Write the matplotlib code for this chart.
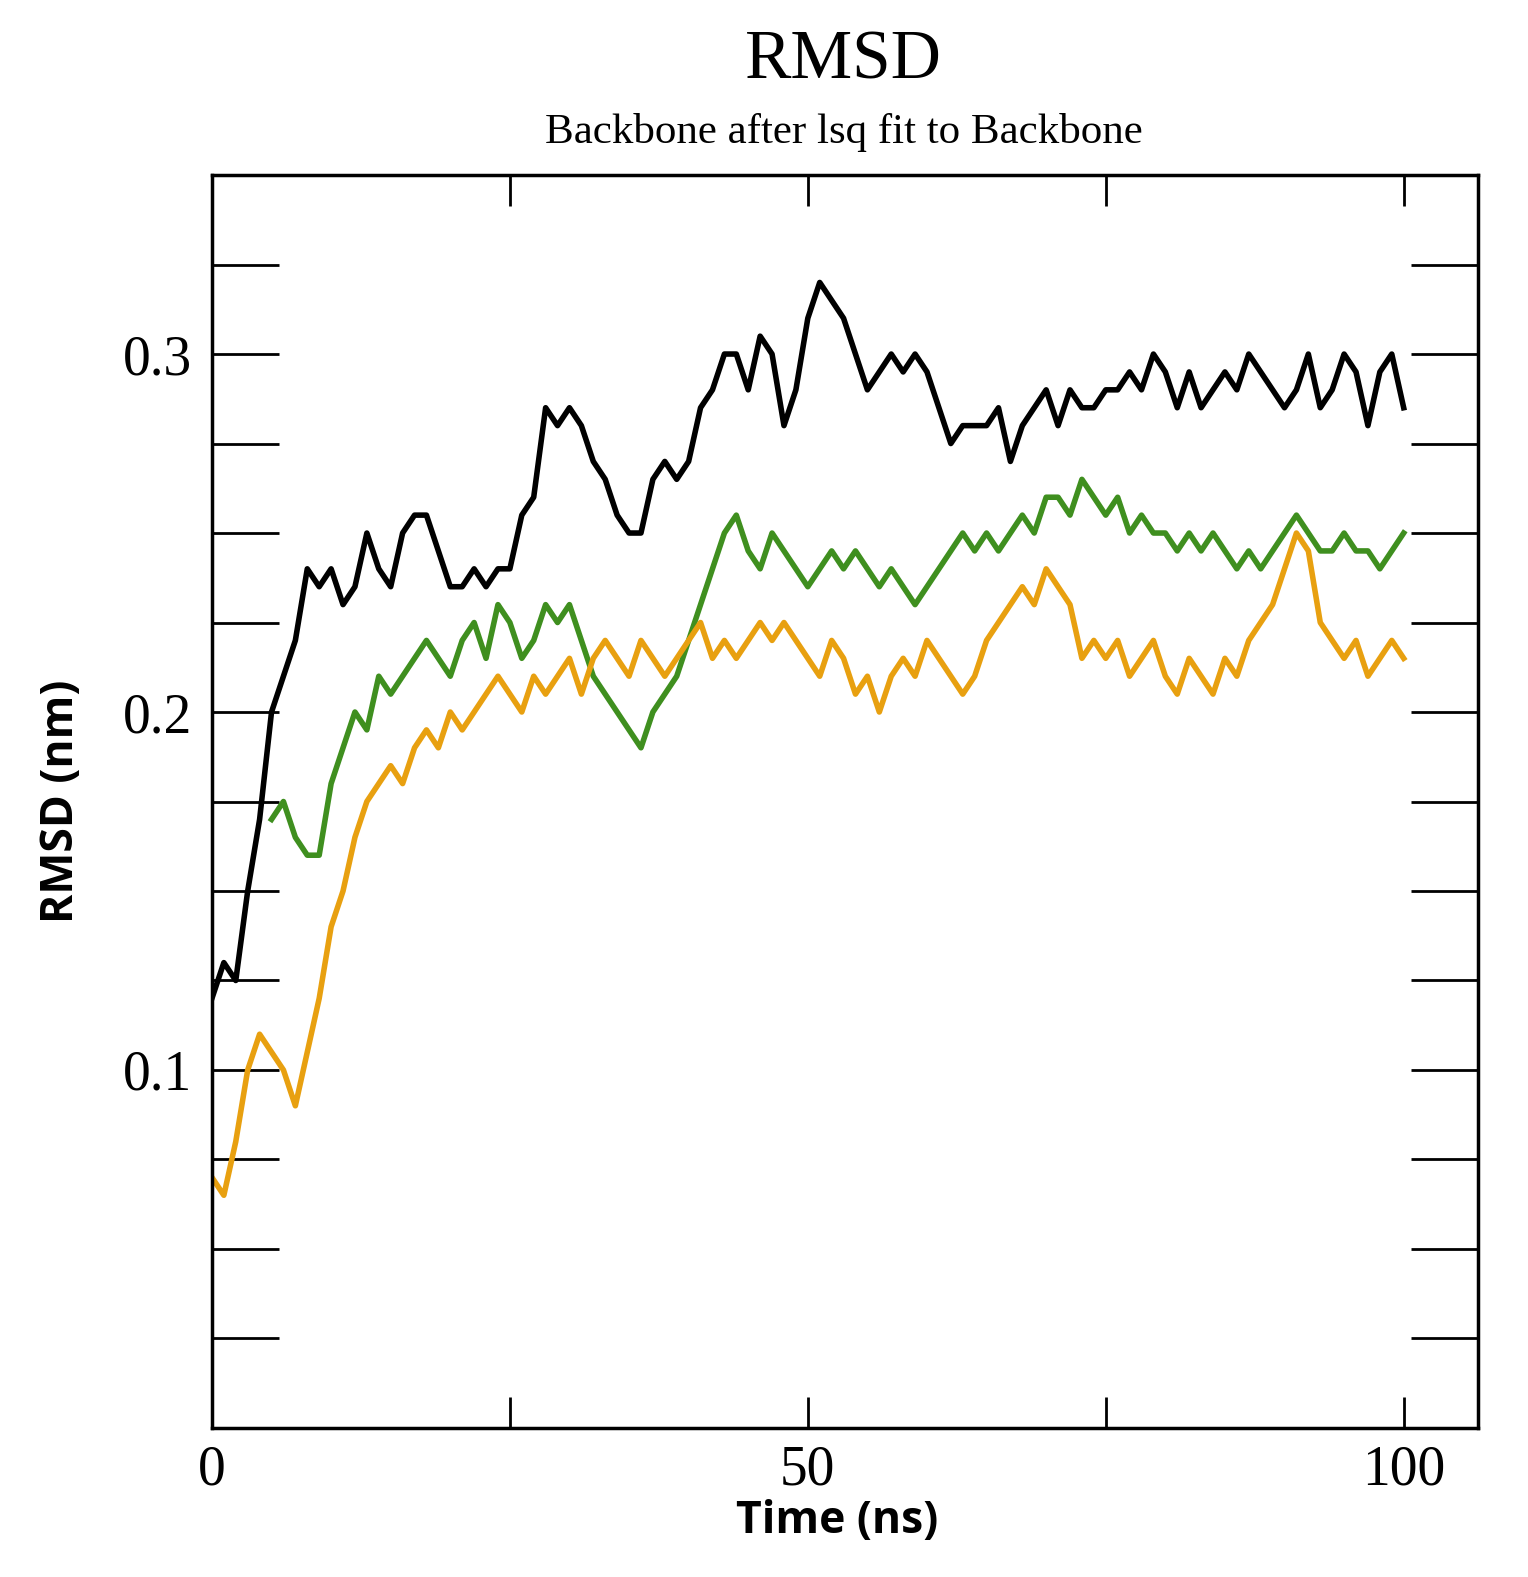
import matplotlib
matplotlib.use("Agg")
import matplotlib.pyplot as plt
from matplotlib.ticker import MultipleLocator

black_t = list(range(0, 101))
black_v = [0.12,0.13,0.125,0.15,0.17,0.2,0.21,0.22,0.24,0.235,0.24,0.23,0.235,0.25,0.24,0.235,0.25,0.255,0.255,0.245,
           0.235,0.235,0.24,0.235,0.24,0.24,0.255,0.26,0.285,0.28,0.285,0.28,0.27,0.265,0.255,0.25,0.25,0.265,0.27,0.265,
           0.27,0.285,0.29,0.3,0.3,0.29,0.305,0.3,0.28,0.29,0.31,0.32,0.315,0.31,0.3,0.29,0.295,0.3,0.295,0.3,
           0.295,0.285,0.275,0.28,0.28,0.28,0.285,0.27,0.28,0.285,0.29,0.28,0.29,0.285,0.285,0.29,0.29,0.295,0.29,0.3,
           0.295,0.285,0.295,0.285,0.29,0.295,0.29,0.3,0.295,0.29,0.285,0.29,0.3,0.285,0.29,0.3,0.295,0.28,0.295,0.3,0.285]
green_t = list(range(5, 101))
green_v = [0.17,0.175,0.165,0.16,0.16,0.18,0.19,0.2,0.195,0.21,0.205,0.21,0.215,0.22,0.215,0.21,0.22,0.225,0.215,0.23,
           0.225,0.215,0.22,0.23,0.225,0.23,0.22,0.21,0.205,0.2,0.195,0.19,0.2,0.205,0.21,0.22,0.23,0.24,0.25,0.255,
           0.245,0.24,0.25,0.245,0.24,0.235,0.24,0.245,0.24,0.245,0.24,0.235,0.24,0.235,0.23,0.235,0.24,0.245,0.25,0.245,
           0.25,0.245,0.25,0.255,0.25,0.26,0.26,0.255,0.265,0.26,0.255,0.26,0.25,0.255,0.25,0.25,0.245,0.25,0.245,0.25,
           0.245,0.24,0.245,0.24,0.245,0.25,0.255,0.25,0.245,0.245,0.25,0.245,0.245,0.24,0.245,0.25]
orange_t = list(range(0, 101))
orange_v = [0.07,0.065,0.08,0.1,0.11,0.105,0.1,0.09,0.105,0.12,0.14,0.15,0.165,0.175,0.18,0.185,0.18,0.19,0.195,0.19,
            0.2,0.195,0.2,0.205,0.21,0.205,0.2,0.21,0.205,0.21,0.215,0.205,0.215,0.22,0.215,0.21,0.22,0.215,0.21,0.215,
            0.22,0.225,0.215,0.22,0.215,0.22,0.225,0.22,0.225,0.22,0.215,0.21,0.22,0.215,0.205,0.21,0.2,0.21,0.215,0.21,
            0.22,0.215,0.21,0.205,0.21,0.22,0.225,0.23,0.235,0.23,0.24,0.235,0.23,0.215,0.22,0.215,0.22,0.21,0.215,0.22,
            0.21,0.205,0.215,0.21,0.205,0.215,0.21,0.22,0.225,0.23,0.24,0.25,0.245,0.225,0.22,0.215,0.22,0.21,0.215,0.22,0.215]

fig = plt.figure(figsize=(15.28, 15.77), dpi=100)
ax = fig.add_axes([0.1387, 0.0945, 0.8283, 0.7945])
ax.plot(black_t, black_v, color="black", lw=4)
ax.plot(green_t, green_v, color="#3f8f1f", lw=4)
ax.plot(orange_t, orange_v, color="#e8a010", lw=4)
ax.set_xlim(0, 106.2)
ax.set_ylim(0.0, 0.35)
ax.xaxis.set_minor_locator(MultipleLocator(25))
ax.yaxis.set_minor_locator(MultipleLocator(0.025))
ax.tick_params(which="both", direction="in", top=True, right=True, width=2)
ax.tick_params(axis="y", which="both", length=48)
ax.tick_params(axis="x", which="both", length=22)
ax.tick_params(axis="y", pad=14)
ax.tick_params(axis="x", pad=12)
ax.set_yticks([0.1, 0.2, 0.3])
ax.set_yticklabels(["0.1", "0.2", "0.3"], family="Liberation Serif", fontsize=40)
ax.set_xticks([0, 50, 100])
ax.set_xticklabels(["0", "50", "100"], family="Liberation Serif", fontsize=40)
for s in ax.spines.values():
    s.set_linewidth(2.5)
fig.text(0.548, 0.035, "Time (ns)", ha="center", va="center", fontsize=32, fontweight="bold", family="Open Sans")
ax.set_ylabel("RMSD (nm)", fontsize=32, fontweight="bold", family="Open Sans", labelpad=28)
fig.text(0.552, 0.961, "RMSD", ha="center", va="center", fontsize=50, family="Liberation Serif")
fig.text(0.552, 0.916, "Backbone after lsq fit to Backbone", ha="center", va="center", fontsize=31, family="Liberation Serif")
fig.savefig("out.png", dpi=100)
